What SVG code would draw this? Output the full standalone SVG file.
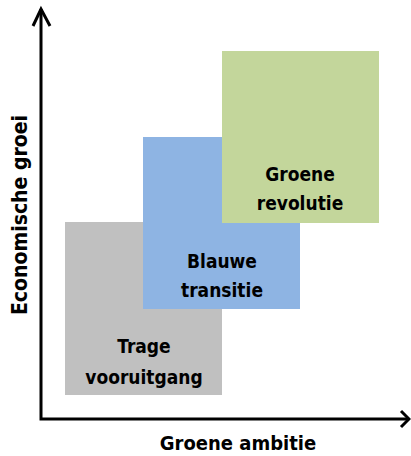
<svg xmlns="http://www.w3.org/2000/svg" width="411" height="456" viewBox="0 0 411 456">
<style>
.lbl{font-family:"DejaVu Sans Condensed","Liberation Sans",sans-serif;font-weight:bold;font-size:19px;fill:#000;text-anchor:middle}
.ax{stroke:#000;stroke-width:3;fill:none}
</style>
<rect width="411" height="456" fill="#fff"/>
<g id="trage-vooruitgang">
<rect x="65" y="222" width="157" height="173" fill="#c0c0c0"/>
<text class="lbl" x="144" y="353">Trage</text>
<text class="lbl" x="144" y="384">vooruitgang</text>
</g>
<g id="blauwe-transitie">
<rect x="143" y="137" width="157" height="172" fill="#8eb4e3"/>
<text class="lbl" x="222" y="268">Blauwe</text>
<text class="lbl" x="222" y="297">transitie</text>
</g>
<g id="groene-revolutie">
<rect x="222" y="51" width="157" height="172" fill="#c3d69b"/>
<text class="lbl" x="300" y="181">Groene</text>
<text class="lbl" x="300" y="210">revolutie</text>
</g>
<g id="axes">
<polyline class="ax" points="41,9 41,419 409,419"/>
<polyline class="ax" points="33,26 41,9 50,26"/>
<polyline class="ax" points="401,411 409,419 401,427"/>
</g>
<text class="lbl" x="238" y="450" style="font-size:20px">Groene ambitie</text>
<text class="lbl" transform="translate(27,215) rotate(-90)" style="font-size:21px">Economische groei</text>
</svg>
